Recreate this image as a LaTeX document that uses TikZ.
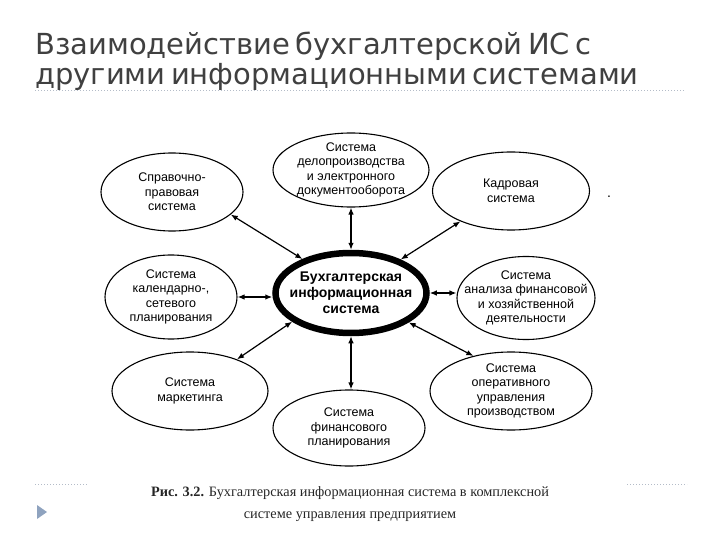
\documentclass[tikz,border=0pt]{standalone}
\usepackage{fontspec}
\setmainfont{Liberation Sans}
\newfontfamily\titlefont[WordSpace=0.6]{DejaVu Sans}
\newfontfamily\capfont{Liberation Serif}
\usetikzlibrary{shapes.geometric,arrows.meta}
\definecolor{titlegray}{HTML}{404040}
\definecolor{dotgray}{HTML}{B4BCC8}
\definecolor{tri}{HTML}{8FA3BF}
\begin{document}
\begin{tikzpicture}[x=1pt,y=-1pt,
  sys/.style={ellipse,draw,line width=1.1pt,align=center,inner sep=-30pt,
    font=\fontsize{12.5}{14.5}\selectfont},
  hub/.style={ellipse,draw,line width=6.5pt,align=center,inner sep=-30pt,
    font=\bfseries\fontsize{14}{16}\selectfont},
  link/.style={<->,line width=1.2pt,>={Latex[length=7pt,width=5.5pt]}},
  ttl/.style={anchor=base west,text=titlegray,font=\titlefont\fontsize{29}{34}\selectfont},
  sep/.style={dotgray,dotted,line width=1pt},
]
\useasboundingbox (0,0) rectangle (720,540);
\node[ttl,inner xsep=0pt] (t1) at (35,55) {Взаимодействие бухгалтерской ИС с};
\node[ttl,inner xsep=0pt] (t2) at (35,85) {другими информационными системами};
\draw[sep] (35,91) -- (685,91);

\node[hub,minimum width=151pt,minimum height=80pt] (c) at (351,293) {Бухгалтерская\\информационная\\система};
\node[sys,minimum width=142pt,minimum height=78pt] (tl) at (172,192) {Справочно-\\правовая\\система};
\node[sys,minimum width=156pt,minimum height=74pt] (tc) at (351,170) {Система\\делопроизводства\\и электронного\\документооборота};
\node[sys,minimum width=157pt,minimum height=78pt] (tr) at (511,191) {Кадровая\\система};
\node[sys,minimum width=132pt,minimum height=84pt] (lm) at (171,297) {Система\\календарно-,\\сетевого\\планирования};
\node[sys,minimum width=138pt,minimum height=83pt] (rm) at (526,298) {Система\\анализа финансовой\\и хозяйственной\\деятельности};
\node[sys,minimum width=156pt,minimum height=78pt] (bl) at (190,391) {Система\\маркетинга};
\node[sys,minimum width=152pt,minimum height=76pt] (bc) at (349,428) {Система\\финансового\\планирования};
\node[sys,minimum width=162pt,minimum height=78pt] (br) at (511,391) {Система\\оперативного\\управления\\производством};
\node[font=\fontsize{14}{14}\selectfont] (dot) at (609,197) {.};

\draw[link] (tc.south) -- (c.north);
\draw[link] (tl.-21) -- (c.145);
\draw[link] (tr.-149) -- (c.34);
\draw[link] (lm.east) -- (lm.east -| c.west);
\draw[link] (c.east) -- (c.east -| rm.west);
\draw[link] (bl.34) -- (c.206);
\draw[link] (c.south) -- (c.south |- bc.north);
\draw[link] (br.137) -- (c.-27);

\node[font=\capfont\fontsize{14.3}{22}\selectfont,align=center,text=black!85] (cap) at (350,504)
  {\textbf{Рис. 3.2.} Бухгалтерская информационная система в комплексной\\системе управления предприятием};
\draw[sep] (35,484) -- (88,484);
\draw[sep] (627,484) -- (687,484);
\fill[tri] (37,505) -- (47,512) -- (37,519) -- cycle;
\end{tikzpicture}
\end{document}
